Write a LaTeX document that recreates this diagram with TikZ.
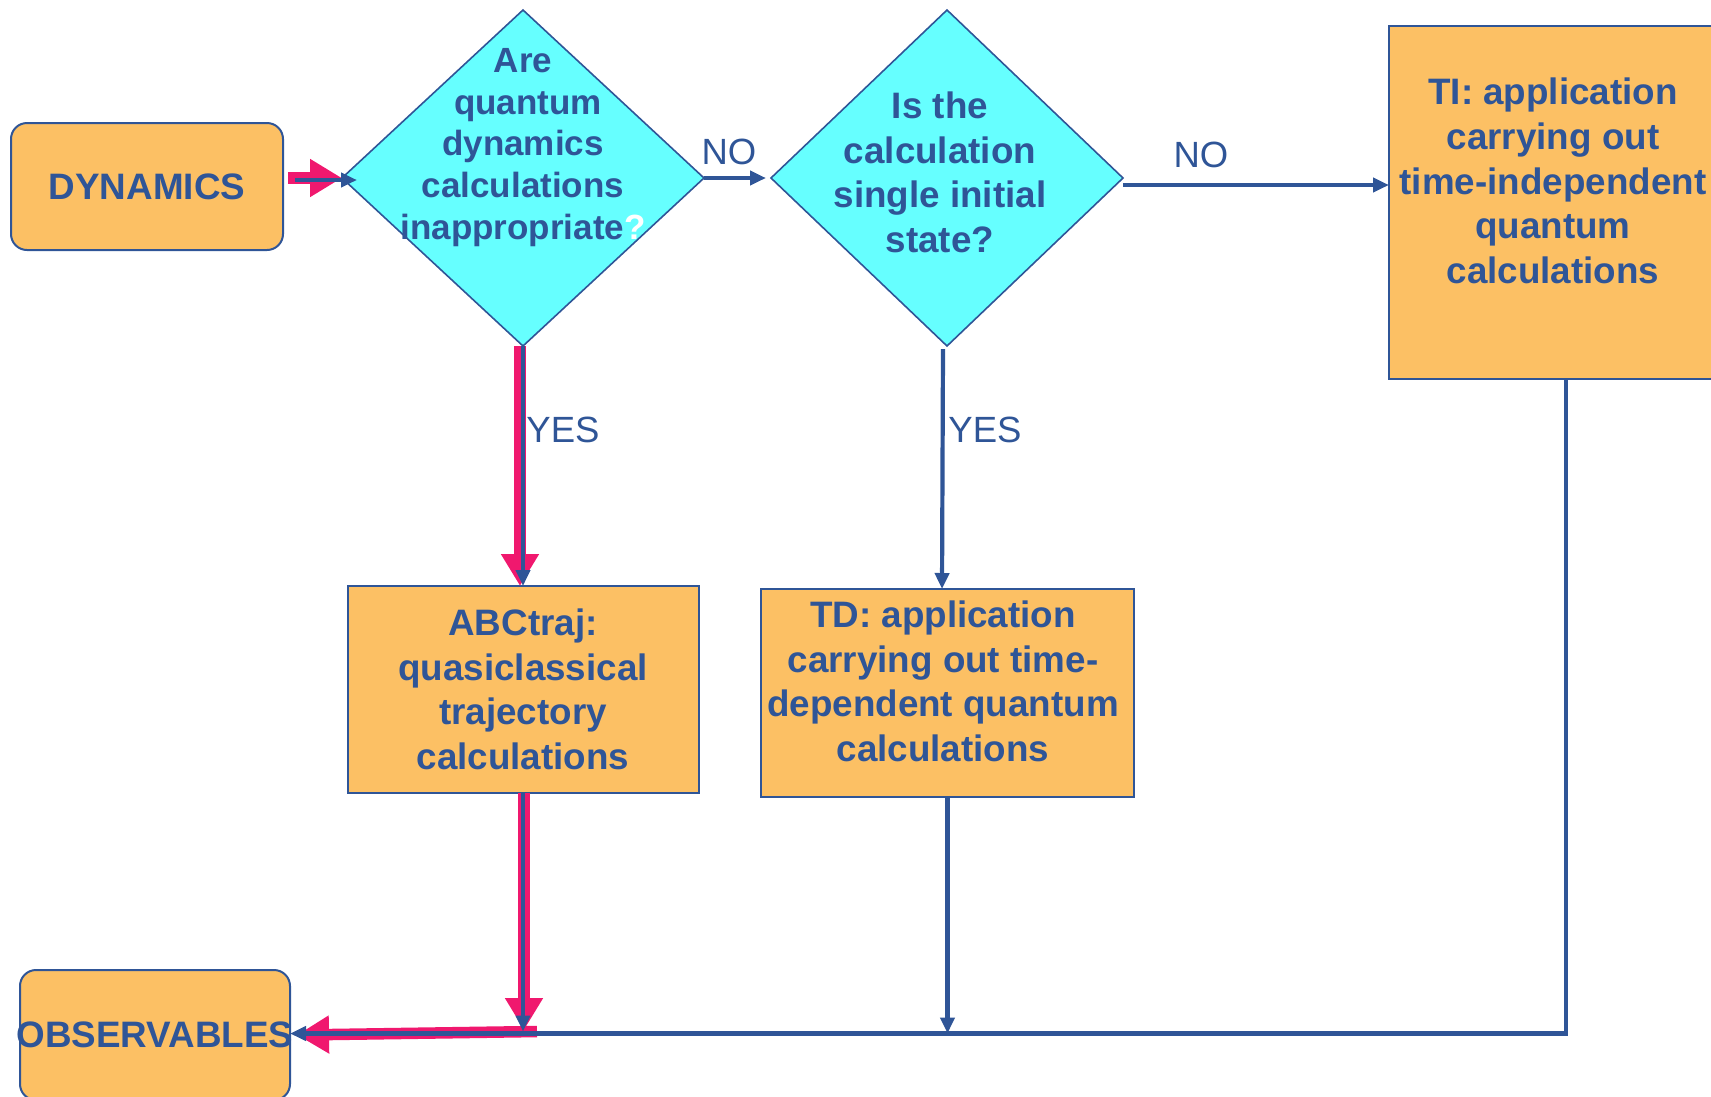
\documentclass[tikz,border=0pt]{standalone}
\usepackage{fontspec}
\setmainfont{Liberation Sans}
\usetikzlibrary{arrows.meta,shapes.geometric,calc}
\definecolor{dblue}{RGB}{47,85,151}
\definecolor{boxorange}{RGB}{252,192,100}
\definecolor{dcyan}{RGB}{102,255,255}
\definecolor{hotpink}{RGB}{240,24,110}
\begin{document}
\begin{tikzpicture}[x=1pt,y=-1pt,
  box/.style={draw=dblue, line width=2pt, fill=boxorange, inner sep=0pt, outer sep=0pt},
  rbox/.style={box, rounded corners=16pt},
  dia/.style={diamond, draw=dblue, line width=1.6pt, fill=dcyan, inner sep=0pt, outer sep=0pt},
  btext/.style={text=dblue, font=\fontsize{36.8}{44.6}\selectfont\bfseries, align=center, inner sep=0pt},
  lab/.style={text=dblue, font=\fontsize{36.5}{44}\selectfont, inner sep=0pt},
  conn/.style={draw=dblue, line width=4.2pt},
  barrow/.style={conn, -{Triangle[width=14pt,length=16pt]}},
  parrow/.style={draw=hotpink, line width=11.5pt, -{Triangle[width=36pt,length=32pt]}},
]
\useasboundingbox (0,0) rectangle (1711,1096);

% nodes
\node[rbox, btext, minimum width=272pt, minimum height=127pt] (dyn) at (147,186.5) {DYNAMICS};
\node[dia, minimum width=362pt, minimum height=336pt] (d1) at (523,178) {};
\node[btext, font=\fontsize{35}{41.8}\selectfont\bfseries] (d1t) at (523,147.5)
  {Are\\\hspace*{10pt}quantum\\dynamics\\calculations\\inappropriate\textcolor{white}{?}};
\node[dia, minimum width=352pt, minimum height=336pt] (d2) at (947,178) {};
\node[btext] (d2t) at (940,172.5) {Is the\\calculation\\single initial\\state?};
\node[box, minimum width=326pt, minimum height=353pt] (ti) at (1552,202.5) {};
\node[btext] (tit) at (1553,181)
  {TI: application\\carrying out\\time-independent\\quantum\\calculations};
\node[box, btext, minimum width=351pt, minimum height=207pt] (abc) at (523,689.5)
  {ABCtraj:\\quasiclassical\\trajectory\\calculations};
\node[box, minimum width=373pt, minimum height=208pt] (td) at (947.5,693) {};
\node[btext] (tdt) at (943,681.5)
  {TD: application\\carrying out time-\\dependent quantum\\calculations};
\node[rbox, btext, minimum width=270pt, minimum height=130pt] (obs) at (155,1035)
  {\makebox[0pt]{OBSERVABLES}};

% junction coordinates
\coordinate (j) at (1566,1033.5);
\coordinate (c1) at (523,1031.5);
\coordinate (n2) at (1123,185);

% pink highlighted path
\draw[parrow] ($(dyn.east |- d1.west)+(5,0)$) -- (d1.west);
\draw[parrow] ($(d1.south)+(-3,0)$) -- ($(abc.north)+(-3,0)$);
\draw[parrow] ($(abc.south)+(1,0)$) -- ($(c1)+(1,-1.5)$);
\draw[parrow] ($(c1)+(14,0)$) -- ($(obs.east)+(7,0)$);

% blue connectors
\draw[barrow] ($(dyn.east |- d1.west)+(12,2)$) -- ($(d1.west)+(15,2)$);
\draw[barrow] (d1.south) -- (abc.north);
\draw[barrow] (d1.east) -- ($(d2.west)+(-5,0)$);
\draw[barrow] (n2) -- (n2 -| ti.west);
\draw[barrow] ($(d2.south)+(-4,3)$) -- ($(td.north)+(-5.5,0)$);
\draw[barrow] (abc.south) -- (c1);
\draw[barrow] (td.south) -- (td.south |- j);
\draw[barrow] (ti.south -| j) -- (j) -- (obs.east |- j);

% labels
\node[lab] (no1) at (729,152) {NO};
\node[lab] (no2) at (1201,155) {NO};
\node[lab] (yes1) at (563,430) {YES};
\node[lab] (yes2) at (985,430) {YES};
\end{tikzpicture}
\end{document}
